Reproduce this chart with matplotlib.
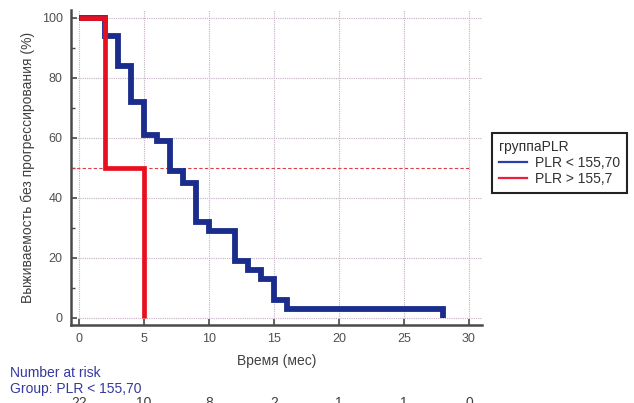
import matplotlib
matplotlib.use("Agg")
import matplotlib.pyplot as plt
from matplotlib.lines import Line2D
from matplotlib.ticker import MultipleLocator
import matplotlib.transforms as mtransforms

plt.rcParams['font.family'] = ['Liberation Sans', 'DejaVu Sans']

# Kaplan-Meier steps
low_t = [0, 2, 3, 4, 5, 6, 7, 8, 9, 10, 12, 13, 14, 15, 16, 28]
low_s = [100, 94, 84, 72, 61, 59, 49, 45, 32, 29, 19, 16, 13, 6, 3, 0]
high_t = [0, 2, 5]
high_s = [100, 50, 0]

risk_times = [0, 5, 10, 15, 20, 25, 30]
risk_low = ["22", "10", "8", "2", "1", "1", "0"]

x_ticks = [0, 5, 10, 15, 20, 25, 30]
y_ticks = [0, 20, 40, 60, 80, 100]

blue = '#1b2d8c'
red = '#e8101e'
grid_col = '#c4b0c4'
axis_col = '#4a4a4a'
text_col = '#505050'

fig = plt.figure(figsize=(6.34, 4.03), dpi=100)
ax = fig.add_axes([71 / 634, 1 - 325 / 403, (482 - 71) / 634, (325 - 10) / 403])

ax.set_xlim(-8 / 13, 403 / 13)
ax.set_ylim(-7 / 3, 308 / 3)

for x in x_ticks:
    ax.axvline(x, color=grid_col, lw=0.8, ls=(0, (1, 1)), zorder=1)
for y in y_ticks:
    ax.axhline(y, color=grid_col, lw=0.8, ls=(0, (1, 1)), zorder=1)

# median line
ax.plot([-8 / 13, 30], [50, 50], color='#d9404c', lw=0.8, ls=(0, (3, 2)), zorder=2)

ax.step(low_t, low_s, where='post', color=blue, lw=4.2,
        solid_joinstyle='miter', solid_capstyle='butt', zorder=3)
ax.step(high_t, high_s, where='post', color=red, lw=3.4,
        solid_joinstyle='miter', solid_capstyle='butt', zorder=4)

for side in ['top', 'right']:
    ax.spines[side].set_visible(False)
for side in ['left', 'bottom']:
    ax.spines[side].set_color(axis_col)
    ax.spines[side].set_linewidth(1.8)

ax.set_xticks(x_ticks)
ax.set_yticks(y_ticks)
ax.yaxis.set_minor_locator(MultipleLocator(10))
ax.tick_params(axis='both', which='major', direction='in', length=4, width=1.2,
               color=axis_col, labelsize=9, labelcolor=text_col, pad=6)
ax.tick_params(axis='y', which='minor', direction='in', length=3, width=1.0, color=axis_col)

ax.set_xlabel("Время (мес)", fontsize=10, color='#404040', labelpad=6)
ax.set_ylabel("Выживаемость без прогрессирования (%)", fontsize=10, color='#404040', labelpad=5)

handles = [Line2D([], [], color='#2a3ea8', lw=1.6), Line2D([], [], color='#e8203a', lw=1.6)]
leg = ax.legend(handles, ["PLR < 155,70", "PLR > 155,7"], title="группаPLR",
                loc='upper left', bbox_to_anchor=(492 / 634, 1 - 133 / 403),
                bbox_transform=fig.transFigure, borderaxespad=0, fancybox=False,
                framealpha=1, edgecolor='#222222', fontsize=10, title_fontsize=10,
                handlelength=2.0, handletextpad=0.6, borderpad=0.5, labelspacing=0.15,
                alignment='left')
leg.get_frame().set_linewidth(1.5)
for t in leg.get_texts():
    t.set_color('#303030')
leg.get_title().set_color('#303030')

fig.text(10 / 634, 1 - 373 / 403, "Number at risk", color='#3538a0', fontsize=10, va='center')
fig.text(10 / 634, 1 - 389 / 403, "Group: PLR < 155,70", color='#3538a0', fontsize=10, va='center')

trans = mtransforms.blended_transform_factory(ax.transData, fig.transFigure)
for t, n in zip(risk_times, risk_low):
    ax.text(t, 1 - 396 / 403, n, transform=trans, ha='center', va='top',
            fontsize=10, color='#404040', clip_on=False)

fig.savefig("out.png", dpi=100)
